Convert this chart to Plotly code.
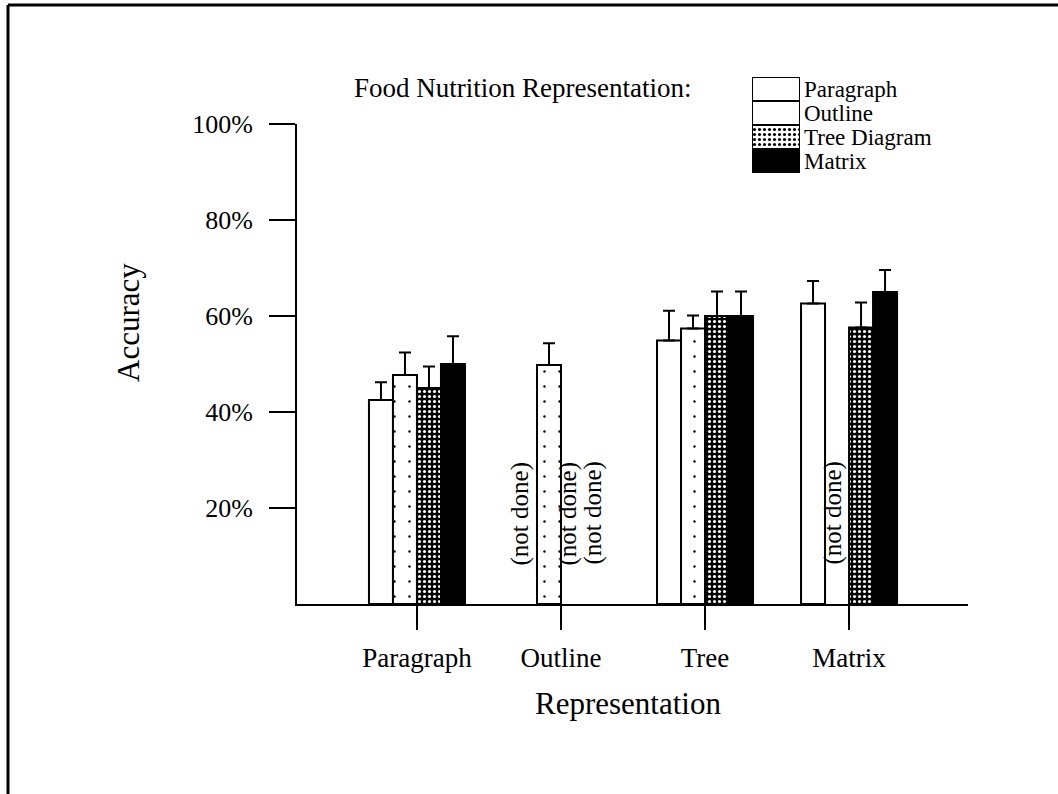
import plotly.graph_objects as go

# ---------------- data ----------------
groups = ["Paragraph", "Outline", "Tree", "Matrix"]
series_names = ["Paragraph", "Outline", "Tree Diagram", "Matrix"]

paragraph = [42.5, None, 54.9, 62.6]
outline = [47.7, 49.8, 57.4, None]
tree_diagram = [45.0, None, 60.0, 57.6]
matrix = [50.0, None, 60.0, 65.0]

err_paragraph = [3.7, None, 6.2, 4.7]
err_outline = [4.7, 4.5, 2.7, None]
err_tree_diagram = [4.5, None, 5.1, 5.2]
err_matrix = [5.8, None, 5.1, 4.6]

y_tickvals = [20, 40, 60, 80, 100]
y_ticktext = ["20%", "40%", "60%", "80%", "100%"]

title_text = "Food Nutrition Representation:"
missing_text = "(not done)"
x_title = "Representation"
y_title = "Accuracy"

# ---------------- styles ----------------
FONT = "Liberation Serif, Times New Roman, serif"
styles = [
    dict(color="white", pattern=dict(shape="", bgcolor="white", fgcolor="black")),
    dict(color="white", pattern=dict(shape=".", bgcolor="white", fgcolor="black",
                                     size=15, solidity=0.02, fillmode="replace")),
    dict(color="black", pattern=dict(shape=".", bgcolor="black", fgcolor="white",
                                     size=5, solidity=0.3, fillmode="replace")),
    dict(color="black", pattern=dict(shape="", bgcolor="black", fgcolor="black")),
]

all_vals = [paragraph, outline, tree_diagram, matrix]
all_errs = [err_paragraph, err_outline, err_tree_diagram, err_matrix]

W, H = 1058, 794
L, R, T, B = 297, 968, 70, 604   # plot area in pixels

def px(xp):
    return (xp - L) / (R - L)

def py(yp):
    return (B - yp) / (B - T)

fig = go.Figure()
xs = list(range(len(groups)))
for name, vals, errs, st in zip(series_names, all_vals, all_errs, styles):
    fig.add_trace(go.Bar(
        x=xs, y=vals, name=name,
        marker=dict(color=st["color"], pattern=st["pattern"],
                    line=dict(color="black", width=2)),
        error_y=dict(type="data", array=errs,
                     arrayminus=[0 if e is not None else None for e in errs],
                     symmetric=False, color="black", thickness=2, width=6),
        showlegend=False, xaxis="x", yaxis="y",
    ))

# legend drawn as a small bar subplot
fig.add_trace(go.Bar(
    x=[1] * len(series_names), y=series_names, orientation="h", width=1,
    marker=dict(
        color=[s["color"] for s in styles],
        pattern=dict(
            shape=[s["pattern"]["shape"] for s in styles],
            bgcolor=[s["pattern"]["bgcolor"] for s in styles],
            fgcolor=[s["pattern"]["fgcolor"] for s in styles],
            size=[s["pattern"].get("size", 8) for s in styles],
            solidity=[s["pattern"].get("solidity", 0.3) for s in styles],
            fillmode="replace",
        ),
        line=dict(color="black", width=2),
    ),
    showlegend=False, xaxis="x2", yaxis="y2", hoverinfo="skip",
))

annotations = []
nser = len(series_names)
for si, vals in enumerate(all_vals):
    for gi, v in enumerate(vals):
        if v is None:
            annotations.append(dict(
                x=gi + (si - (nser - 1) / 2) / 6, y=0, xref="x", yref="y",
                text=missing_text, textangle=-90, showarrow=False,
                yanchor="bottom", xanchor="center", yshift=37, xshift=-5,
                font=dict(family=FONT, size=25, color="black"),
            ))

annotations.append(dict(
    x=px(352), y=py(88), xref="paper", yref="paper", text=title_text,
    showarrow=False, xanchor="left", yanchor="middle",
    font=dict(family=FONT, size=27, color="black"),
))
annotations.append(dict(
    x=px(128), y=py(323), xref="paper", yref="paper", text=y_title,
    showarrow=False, xanchor="center", yanchor="middle", textangle=-90,
    font=dict(family=FONT, size=31, color="black"),
))
annotations.append(dict(
    x=px(628), y=py(703), xref="paper", yref="paper", text=x_title,
    showarrow=False, xanchor="center", yanchor="middle",
    font=dict(family=FONT, size=31, color="black"),
))

fig.update_layout(
    width=W, height=H,
    margin=dict(l=L, r=W - R, t=T, b=H - B, pad=0),
    paper_bgcolor="white", plot_bgcolor="white",
    barmode="group", bargap=1 / 3, bargroupgap=0,
    font=dict(family=FONT, color="black"),
    xaxis=dict(
        domain=[0, 1], range=[-0.833, 3.826],
        tickmode="array", tickvals=xs, ticktext=groups,
        showline=True, linecolor="black", linewidth=2,
        ticks="outside", ticklen=24, tickwidth=2, tickcolor="black",
        showgrid=False, zeroline=False,
        tickfont=dict(family=FONT, size=27, color="black"),
        ticklabelstandoff=5,
    ),
    yaxis=dict(
        domain=[0, py(124)], range=[0, 100],
        tickmode="array", tickvals=y_tickvals, ticktext=y_ticktext,
        showline=True, linecolor="black", linewidth=2,
        ticks="outside", ticklen=26, tickwidth=2, tickcolor="black",
        showgrid=False, zeroline=False,
        tickfont=dict(family=FONT, size=26, color="black"),
        ticklabelstandoff=11,
    ),
    xaxis2=dict(domain=[px(752), px(800)], range=[0, 1], anchor="y2",
                visible=False, fixedrange=True),
    yaxis2=dict(domain=[py(173), py(77)], anchor="x2", side="right",
                type="category", autorange="reversed",
                tickmode="array", tickvals=series_names, ticktext=series_names,
                showline=False, showgrid=False, zeroline=False, ticks="",
                tickfont=dict(family=FONT, size=23, color="black"),
                ticklabelstandoff=3),
    annotations=annotations,
    shapes=[
        dict(type="line", xref="paper", yref="paper", x0=px(8), x1=px(1070),
             y0=py(5), y1=py(5), line=dict(color="black", width=3)),
        dict(type="line", xref="paper", yref="paper", x0=px(8), x1=px(8),
             y0=py(5), y1=py(810), line=dict(color="black", width=3)),
    ],
)

fig.write_html("out.html")
